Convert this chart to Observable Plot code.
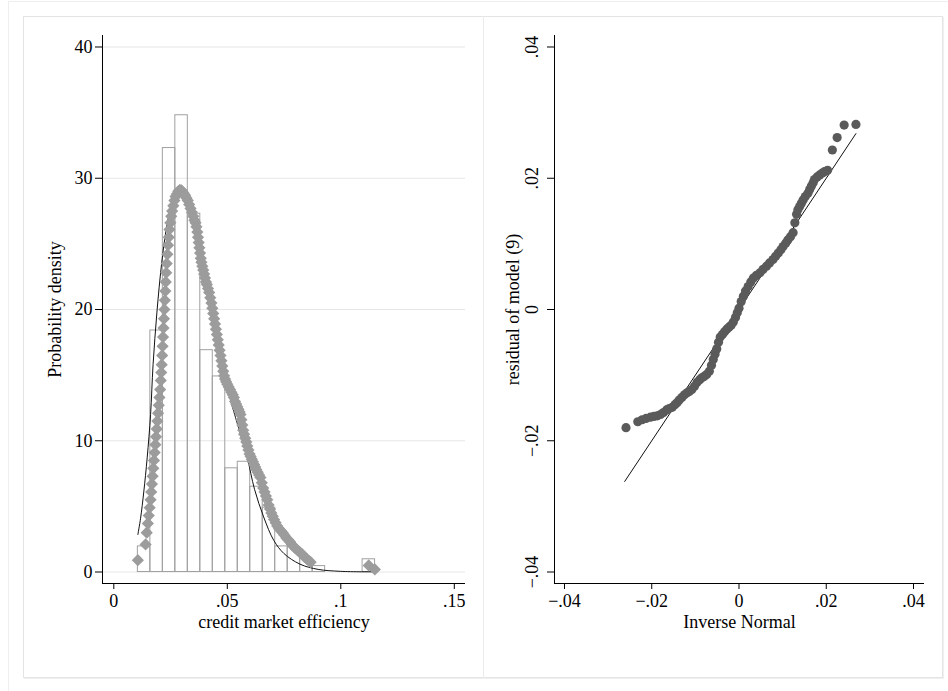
<!DOCTYPE html>
<html>
<head>
<meta charset="utf-8">
<script src="https://cdn.jsdelivr.net/npm/d3@7"></script>
<script src="https://cdn.jsdelivr.net/npm/@observablehq/plot@0.6"></script>
<style>
  html, body { margin: 0; padding: 0; background: #fff; }
  #wrap { position: relative; width: 948px; height: 691px; overflow: hidden; font-family: "Liberation Serif", "Times New Roman", serif; }
  .outer { position: absolute; left: 8px; top: 1px; width: 960px; height: 720px; border: 1px solid #eeeeee; box-sizing: border-box; }
  .inner { position: absolute; left: 23px; top: 16px; width: 920px; height: 662px; border: 1px solid #e4e4e4; box-sizing: border-box; box-shadow: 1px 1px 0 #f0f0f0; }
  .divider { position: absolute; left: 483px; top: 16px; width: 1px; height: 662px; background: #ebebeb; }
  #left { position: absolute; left: 23px; top: 16px; }
  #right { position: absolute; left: 484px; top: 16px; }
  svg { overflow: visible; }
</style>
</head>
<body>
<div id="wrap">
  <div class="outer"></div>
  <div class="inner"></div>
  <div class="divider"></div>
  <div id="left"></div>
  <div id="right"></div>
</div>
<script>
// ---------- Left panel: histogram of credit market efficiency ----------
const binLo = [0.0106, 0.0161, 0.0216, 0.0271, 0.0326, 0.0381, 0.0436, 0.0491, 0.0546, 0.0601, 0.0656, 0.0711, 0.0766, 0.0821, 0.0876, 0.1096];
const binHi = [0.0161, 0.0216, 0.0271, 0.0326, 0.0381, 0.0436, 0.0491, 0.0546, 0.0601, 0.0656, 0.0711, 0.0766, 0.0821, 0.0876, 0.0931, 0.1151];
const binDensity = [1.95, 18.4, 32.3, 34.8, 27.3, 16.9, 14.9, 7.9, 8.4, 6.5, 4.9, 1.95, 1.9, 1.0, 0.45, 0.97];

// kernel-density markers (diamonds), read along the grey band
const kdX = [0.0106, 0.0140, 0.0145, 0.0150, 0.0154, 0.0158, 0.0162, 0.0165, 0.0168, 0.0171, 0.0174, 0.0177, 0.0180, 0.0183, 0.0186, 0.0189, 0.0192, 0.0195, 0.0198, 0.0201, 0.0204, 0.0207, 0.0209, 0.0211, 0.0213, 0.0215, 0.0217, 0.0219, 0.0221, 0.0223, 0.0225, 0.0227, 0.0229, 0.0231, 0.0233, 0.0236, 0.0239, 0.0242, 0.0245, 0.0249, 0.0253, 0.0257, 0.0262, 0.0267, 0.0272, 0.0278, 0.0284, 0.0290, 0.0296,
  0.0302, 0.0308, 0.0314, 0.0320, 0.0326, 0.0332, 0.0338, 0.0344, 0.0350, 0.0355, 0.0360, 0.0364, 0.0368, 0.0371, 0.0374, 0.0377, 0.0380, 0.0383, 0.0386, 0.0390, 0.0394, 0.0398, 0.0402, 0.0406, 0.0410, 0.0415, 0.0420, 0.0425, 0.0430, 0.0434, 0.0438, 0.0442, 0.0446, 0.0450, 0.0454, 0.0458, 0.0462, 0.0466, 0.0470, 0.0474, 0.0478, 0.0482, 0.0486, 0.0490, 0.0495, 0.0500, 0.0506, 0.0512, 0.0518, 0.0524, 0.0529, 0.0534, 0.0539, 0.0544, 0.0549, 0.0554, 0.0558, 0.0562, 0.0566, 0.0570, 0.0574, 0.0579, 0.0584, 0.0588, 0.0593, 0.0598, 0.0603, 0.0608, 0.0613, 0.0618, 0.0623, 0.0628, 0.0634, 0.0640, 0.0646, 0.0652, 0.0658, 0.0664, 0.0670, 0.0676, 0.0682, 0.0688, 0.0694, 0.0700, 0.0706, 0.0713, 0.0720, 0.0728, 0.0736, 0.0744, 0.0752, 0.0760, 0.0768, 0.0776, 0.0784, 0.0792, 0.0800, 0.0810, 0.0820, 0.0830, 0.0840, 0.0850, 0.0860, 0.0867, 0.1123, 0.1150];
const kdY = [0.9, 2.1, 3.0, 3.7, 4.3, 4.9, 5.5, 6.1, 6.7, 7.3, 7.9, 8.5, 9.1, 9.7, 10.3, 10.9, 11.5, 12.1, 12.7, 13.3, 13.9, 14.6, 15.2, 15.8, 16.5, 17.2, 17.9, 18.6, 19.3, 20.0, 20.7, 21.4, 22.1, 22.8, 23.5, 24.2, 24.9, 25.5, 26.1, 26.6, 27.1, 27.5, 27.9, 28.3, 28.6, 28.8, 29.0, 29.1, 29.1,
  29.0, 28.85, 28.7, 28.5, 28.3, 28.0, 27.7, 27.4, 27.1, 26.8, 26.6, 26.3, 25.9, 25.5, 25.1, 24.7, 24.3, 23.9, 23.6, 23.3, 23.0, 22.7, 22.4, 22.1, 21.9, 21.6, 21.3, 20.9, 20.5, 20.1, 19.7, 19.3, 18.9, 18.5, 18.1, 17.7, 17.3, 16.9, 16.5, 16.1, 15.7, 15.3, 14.95, 14.7, 14.5, 14.3, 14.1, 13.9, 13.7, 13.5, 13.3, 13.0, 12.8, 12.6, 12.4, 12.2, 12.0, 11.6, 11.2, 10.8, 10.5, 10.2, 9.9, 9.6, 9.3, 9.0, 8.8, 8.6, 8.4, 8.2, 8.0, 7.8, 7.6, 7.4, 7.2, 6.8, 6.4, 6.1, 5.8, 5.5, 5.1, 4.8, 4.5, 4.25, 4.0, 3.75, 3.5, 3.3, 3.15, 3.0, 2.8, 2.6, 2.45, 2.3, 2.1, 1.95, 1.8, 1.65, 1.5, 1.35, 1.15, 1.0, 0.85, 0.75, 0.5, 0.2];

// fitted density curve (black line)
const fitX = [0.0106, 0.0118, 0.0132, 0.0147, 0.0162, 0.0173, 0.0190, 0.0210, 0.0230, 0.0250, 0.0270, 0.0290, 0.0310, 0.0340, 0.0370, 0.0400, 0.0430, 0.0460, 0.0490, 0.0529, 0.0558, 0.0588, 0.0620, 0.0660, 0.0705, 0.0750, 0.0820, 0.0900, 0.1000, 0.1150];
const fitY = [2.85, 4.1, 6.1, 8.7, 12.0, 15.8, 19.8, 23.4, 26.0, 27.7, 28.6, 28.9, 28.6, 27.3, 25.2, 22.7, 20.0, 17.3, 14.7, 12.2, 10.5, 8.7, 6.3, 4.2, 2.4, 1.4, 0.6, 0.2, 0.05, 0.01];

const leftXTicks = [0, 0.05, 0.1, 0.15];
const leftXTickLabels = ["0", ".05", ".1", ".15"];
const leftYTicks = [0, 10, 20, 30, 40];
const leftXDomain = [-0.00498, 0.15493];
const leftYDomain = [-0.876, 40.876];

// ---------- Right panel: normal Q-Q plot of residuals ----------
const qqX = [-0.0259, -0.0232, -0.0222, -0.0213, -0.0203, -0.0195, -0.0187, -0.0180, -0.0173, -0.0166, -0.0160, -0.0153, -0.0147, -0.0142, -0.0137, -0.0131, -0.0125, -0.0119, -0.0114, -0.0108, -0.0102, -0.0096, -0.0090, -0.0085, -0.0080, -0.0074, -0.0068, -0.0063, -0.0059, -0.0055, -0.0051, -0.0047, -0.0043, -0.0038, -0.0033, -0.0028, -0.0023, -0.0018, -0.0013, -0.0008, -0.0004, 0.0000, 0.0005, 0.0010, 0.0015, 0.0021, 0.0027, 0.0033, 0.0040, 0.0048, 0.0055, 0.0063, 0.0070, 0.0078, 0.0084, 0.0090, 0.0096, 0.0101, 0.0107, 0.0112, 0.0118, 0.0124, 0.0128, 0.0132, 0.0135, 0.0139, 0.0143, 0.0147, 0.0152, 0.0158, 0.0162, 0.0166, 0.0170, 0.0173, 0.0179, 0.0185, 0.0191, 0.0196, 0.0203, 0.0214, 0.0225, 0.0241, 0.0268];
const qqY = [-0.0180, -0.0171, -0.0168, -0.0166, -0.0164, -0.0163, -0.0162, -0.0160, -0.0157, -0.0153, -0.0151, -0.0149, -0.0145, -0.0142, -0.0138, -0.0134, -0.0130, -0.0127, -0.0125, -0.0122, -0.0117, -0.0111, -0.0107, -0.0104, -0.0102, -0.0099, -0.0094, -0.0085, -0.0076, -0.0068, -0.0060, -0.0050, -0.0042, -0.0038, -0.0034, -0.0030, -0.0027, -0.0024, -0.0019, -0.0012, -0.0005, 0.0002, 0.0012, 0.0020, 0.0028, 0.0035, 0.0042, 0.0048, 0.0052, 0.0056, 0.0061, 0.0066, 0.0071, 0.0076, 0.0081, 0.0086, 0.0091, 0.0096, 0.0101, 0.0106, 0.0111, 0.0117, 0.0132, 0.0145, 0.0152, 0.0157, 0.0162, 0.0167, 0.0172, 0.0177, 0.0183, 0.0188, 0.0193, 0.0198, 0.0202, 0.0205, 0.0208, 0.0210, 0.0212, 0.0243, 0.0262, 0.0281, 0.0282];
const refX = [-0.0262, 0.0268];
const refY = [-0.0262, 0.0268];

const rightTicks = [-0.04, -0.02, 0, 0.02, 0.04];
const rightTickLabels = ["\u2212.04", "\u2212.02", "0", ".02", ".04"];
const rightXDomain = [-0.04229, 0.04252];
const rightYDomain = [-0.04175, 0.04175];

// ---------- tables ----------
const hist = binLo.map((lo, i) => ({lo, hi: binHi[i], d: binDensity[i]}));
const kd = kdX.map((x, i) => ({x, y: kdY[i]}));
const fit = fitX.map((x, i) => ({x, y: fitY[i]}));
const qq = qqX.map((x, i) => ({x, y: qqY[i]}));
const ref = refX.map((x, i) => ({x, y: refY[i]}));

const baseStyle = {fontFamily: "'Liberation Serif', 'Times New Roman', serif", fontSize: "18px", color: "#000", background: "transparent", overflow: "visible"};
const fmt = (ticks, labels) => d => labels[ticks.findIndex(t => Math.abs(t - d) < 1e-9)];

const leftPlot = Plot.plot({
  width: 460, height: 662,
  marginLeft: 79, marginRight: 18, marginTop: 19, marginBottom: 95,
  style: baseStyle,
  x: {domain: leftXDomain},
  y: {domain: leftYDomain},
  marks: [
    Plot.gridY(leftYTicks, {stroke: "#e6e6e6", strokeOpacity: 1}),
    Plot.rectY(hist, {x1: "lo", x2: "hi", y: "d", fill: "none", stroke: "#a0a0a0", strokeWidth: 1}),
    Plot.line(fit, {x: "x", y: "y", stroke: "#111", strokeWidth: 1, curve: "catmull-rom"}),
    Plot.dot(kd, {x: "x", y: "y", symbol: "diamond2", r: 5.5, fill: "#9c9c9c", stroke: "none"}),
    Plot.ruleX([leftXDomain[0]], {stroke: "#000", strokeWidth: 1}),
    Plot.ruleY([leftYDomain[0]], {stroke: "#000", strokeWidth: 1}),
    Plot.axisY(leftYTicks, {tickSize: 7, tickPadding: 3, fontSize: 18, label: "Probability density", labelAnchor: "center", labelOffset: 54, labelArrow: "none"}),
    Plot.axisX(leftXTicks, {tickSize: 6, tickPadding: 5, fontSize: 18, tickFormat: fmt(leftXTicks, leftXTickLabels), label: "credit market efficiency", labelAnchor: "center", labelOffset: 44, labelArrow: "none"})
  ]
});
document.getElementById("left").appendChild(leftPlot);

const rightPlot = Plot.plot({
  width: 459, height: 662,
  marginLeft: 70, marginRight: 19, marginTop: 19, marginBottom: 95,
  style: baseStyle,
  x: {domain: rightXDomain},
  y: {domain: rightYDomain},
  marks: [
    Plot.line(ref, {x: "x", y: "y", stroke: "#111", strokeWidth: 1}),
    Plot.dot(qq, {x: "x", y: "y", r: 4.6, fill: "#5a5a5a", stroke: "none"}),
    Plot.ruleX([rightXDomain[0]], {stroke: "#000", strokeWidth: 1}),
    Plot.ruleY([rightYDomain[0]], {stroke: "#000", strokeWidth: 1}),
    Plot.axisY(rightTicks, {tickSize: 7, tickPadding: 10, tickRotate: -90, fontSize: 18, tickFormat: fmt(rightTicks, rightTickLabels), label: "residual of model (9)", labelAnchor: "center", labelOffset: 48, labelArrow: "none"}),
    Plot.axisX(rightTicks, {tickSize: 6, tickPadding: 5, fontSize: 18, tickFormat: fmt(rightTicks, rightTickLabels), label: "Inverse Normal", labelAnchor: "center", labelOffset: 44, labelArrow: "none"})
  ]
});
document.getElementById("right").appendChild(rightPlot);
</script>
</body>
</html>
